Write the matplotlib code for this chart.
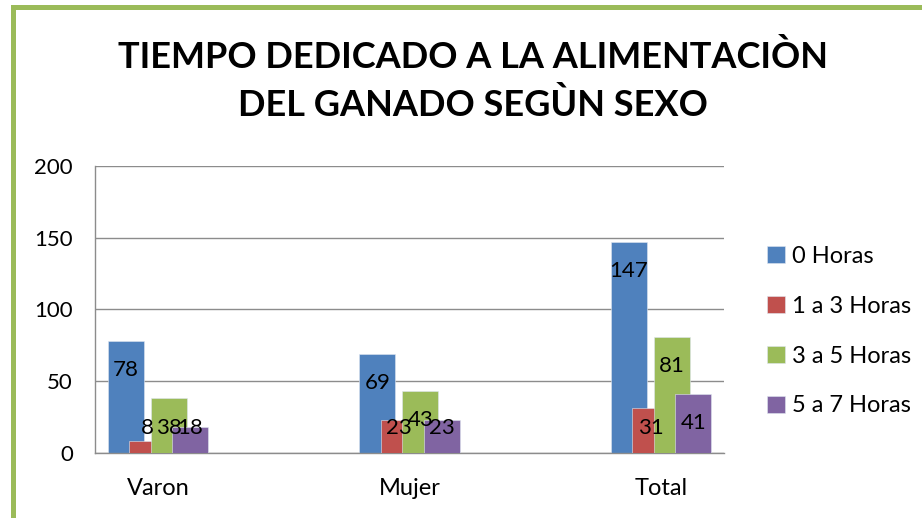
"""
Tiempo dedicado a la alimentacion del ganado segun sexo
"""
from matplotlib import pyplot as plt
import matplotlib.patches as patches
import numpy

# Data:
categories = ['Varon', 'Mujer', 'Total']
series_names = ['0 Horas', '1 a 3 Horas', '3 a 5 Horas', '5 a 7 Horas']
horas_0 = [78, 69, 147]
horas_1_3 = [8, 23, 31]
horas_3_5 = [38, 43, 81]
horas_5_7 = [18, 23, 41]
yticks = [0, 50, 100, 150, 200]

series = [horas_0, horas_1_3, horas_3_5, horas_5_7]
colours = ['#4F81BD', '#C0504D', '#9BBB59', '#8064A2']

plt.rcParams['font.family'] = ['Lato', 'DejaVu Sans']

W, H = 922, 518
figure = plt.figure(figsize=(W/100, H/100), dpi=100)
ax = figure.add_axes([95/W, (H-452.7)/H, 629/W, 286.7/H])

x = numpy.arange(len(categories))
step = 0.085
width = 0.143
for i, (vals, col, name) in enumerate(zip(series, colours, series_names)):
    pos = x + (i - 1.5)*step
    ax.bar(pos, vals, width=width, color=col, edgecolor='#dfe6f0',
           linewidth=0.4, label=name, zorder=2+i)
    for px, v in zip(pos, vals):
        ax.text(px, max(v - 20.5, 17.5), str(v), ha='center', va='center',
                fontsize=16, color='black', zorder=10)

ax.set_xlim(-0.25, 2.25)
ax.set_ylim(0, 200)
ax.set_yticks(yticks)
ax.set_xticks(x)
ax.set_xticklabels(categories, fontsize=17)
ax.tick_params(axis='y', length=0, pad=16, labelsize=16)
ax.tick_params(axis='x', length=0, pad=18)
ax.grid(axis='y', color='#8c8c8c', linewidth=1.0, zorder=0)
ax.set_axisbelow(True)
for side in ['top', 'right']:
    ax.spines[side].set_visible(False)
for side in ['left', 'bottom']:
    ax.spines[side].set_color('#8c8c8c')
    ax.spines[side].set_linewidth(1.0)

# Title:
figure.text(473/W, 1 - 57/H, 'TIEMPO DEDICADO A LA ALIMENTACIÒN',
            ha='center', va='center', fontsize=26, fontweight='bold')
figure.text(473/W, 1 - 105/H, 'DEL GANADO SEGÙN SEXO',
            ha='center', va='center', fontsize=26, fontweight='bold')

# Legend:
figure.legend(loc='upper left', bbox_to_anchor=(767/W, 1 - 246/H),
              frameon=False, fontsize=17, handlelength=0.75, handleheight=0.75,
              handletextpad=0.3, labelspacing=1.22, borderpad=0,
              borderaxespad=0)

# Green frame:
frame = patches.Rectangle((13/W, -0.1), 1.0, (H - 7.5)/H + 0.1,
                          transform=figure.transFigure, fill=False,
                          edgecolor='#9BBB59', linewidth=3.6, clip_on=False)
figure.patches.append(frame)

plt.savefig('out.png', dpi=100)
